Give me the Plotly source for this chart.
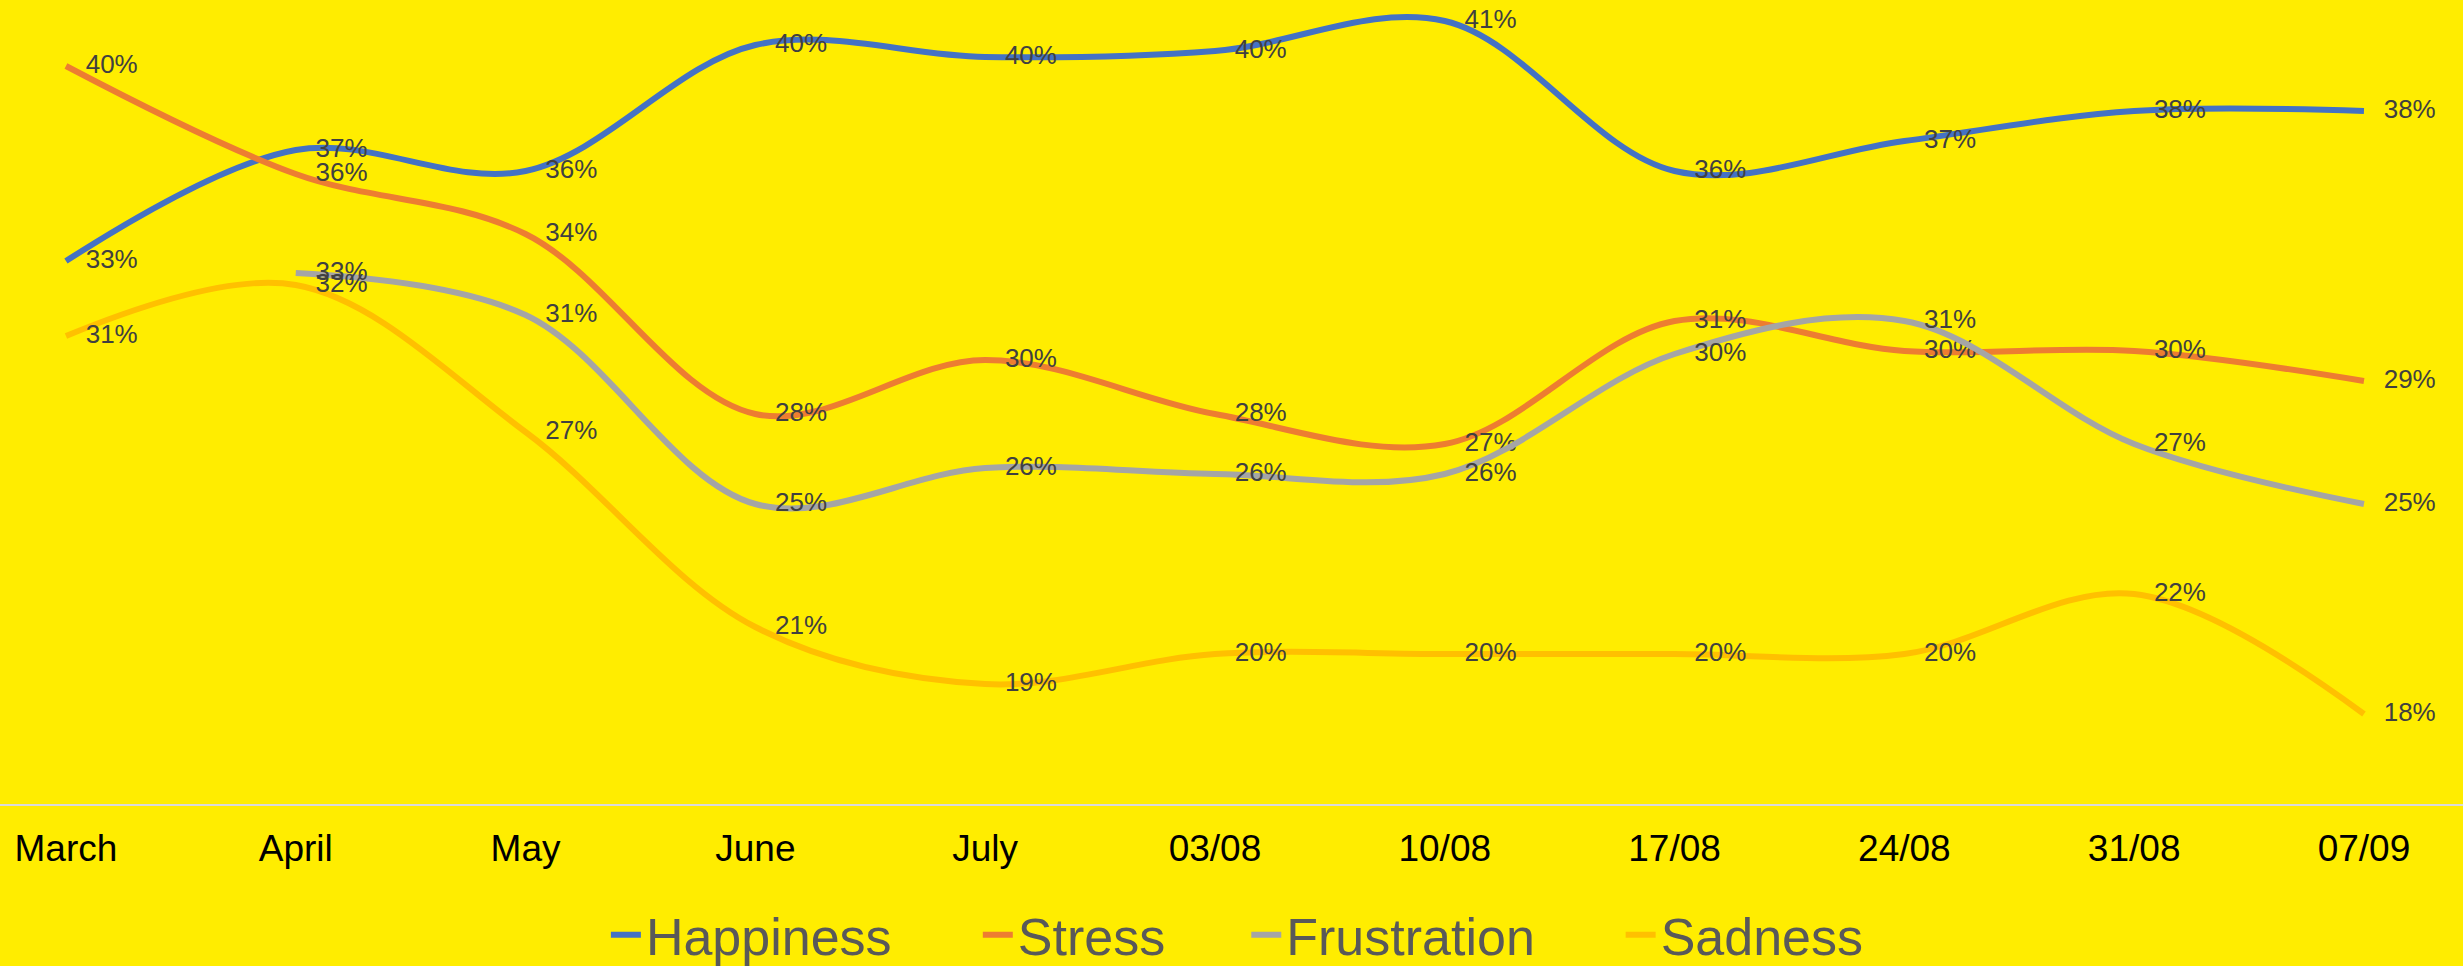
import plotly.graph_objects as go

categories = ["March", "April", "May", "June", "July", "03/08", "10/08", "17/08", "24/08", "31/08", "07/09"]

happiness = [0.331, 0.368, 0.361, 0.403, 0.399, 0.401, 0.411, 0.361, 0.371, 0.381, 0.381]
stress = [0.396, 0.360, 0.340, 0.280, 0.298, 0.280, 0.270, 0.311, 0.301, 0.301, 0.291]
frustration = [None, 0.327, 0.313, 0.250, 0.262, 0.260, 0.260, 0.300, 0.311, 0.270, 0.250]
sadness = [0.306, 0.323, 0.274, 0.209, 0.190, 0.200, 0.200, 0.200, 0.200, 0.220, 0.180]

series_names = ["Happiness", "Stress", "Frustration", "Sadness"]
series_values = [happiness, stress, frustration, sadness]
series_colors = ["#4472C4", "#ED7D31", "#A5A5A5", "#FFC000"]
legend_ids = ["legend", "legend2", "legend3", "legend4"]
legend_x = [0.246, 0.397, 0.506, 0.658]

FONT = "Liberation Sans, Arial, sans-serif"

fig = go.Figure()
for name, vals, col, lid in zip(series_names, series_values, series_colors, legend_ids):
    fig.add_trace(go.Scatter(
        x=categories,
        y=vals,
        name=name,
        legend=lid,
        mode="lines+markers+text",
        line=dict(color=col, width=6, shape="spline", smoothing=1.0),
        marker=dict(size=30, color="rgba(0,0,0,0)"),
        text=[f"{round(v*100)}%" if v is not None else "" for v in vals],
        textposition="middle right",
        textfont=dict(family=FONT, size=26, color="#404040"),
        connectgaps=False,
        cliponaxis=False,
        hoverinfo="skip",
    ))

legend_common = dict(
    orientation="h",
    xanchor="left",
    y=-0.163, yanchor="middle",
    font=dict(family=FONT, size=52, color="#595959"),
    bgcolor="rgba(0,0,0,0)",
    itemwidth=30,
)

layout_legends = {}
for lid, lx in zip(legend_ids, legend_x):
    layout_legends[lid] = dict(legend_common, x=lx)

fig.update_layout(
    width=2463,
    height=966,
    paper_bgcolor="#FFED00",
    plot_bgcolor="#FFED00",
    margin=dict(l=0, r=0, t=0, b=162, autoexpand=False),
    showlegend=True,
    xaxis=dict(
        type="category",
        range=[-0.287, 10.431],
        showgrid=False,
        zeroline=False,
        showline=True,
        linecolor="#D9D9D9",
        linewidth=2,
        ticks="",
        tickfont=dict(family=FONT, size=37, color="#000000"),
        ticklabelstandoff=11,
        automargin=False,
    ),
    yaxis=dict(
        range=[0.15, 0.418],
        visible=False,
        showgrid=False,
        zeroline=False,
        automargin=False,
    ),
    **layout_legends,
)

fig.write_html(
    "out.html",
    config={"displayModeBar": False},
    post_script="document.body.style.margin='0';document.body.style.padding='0';document.body.style.overflow='hidden';",
)
